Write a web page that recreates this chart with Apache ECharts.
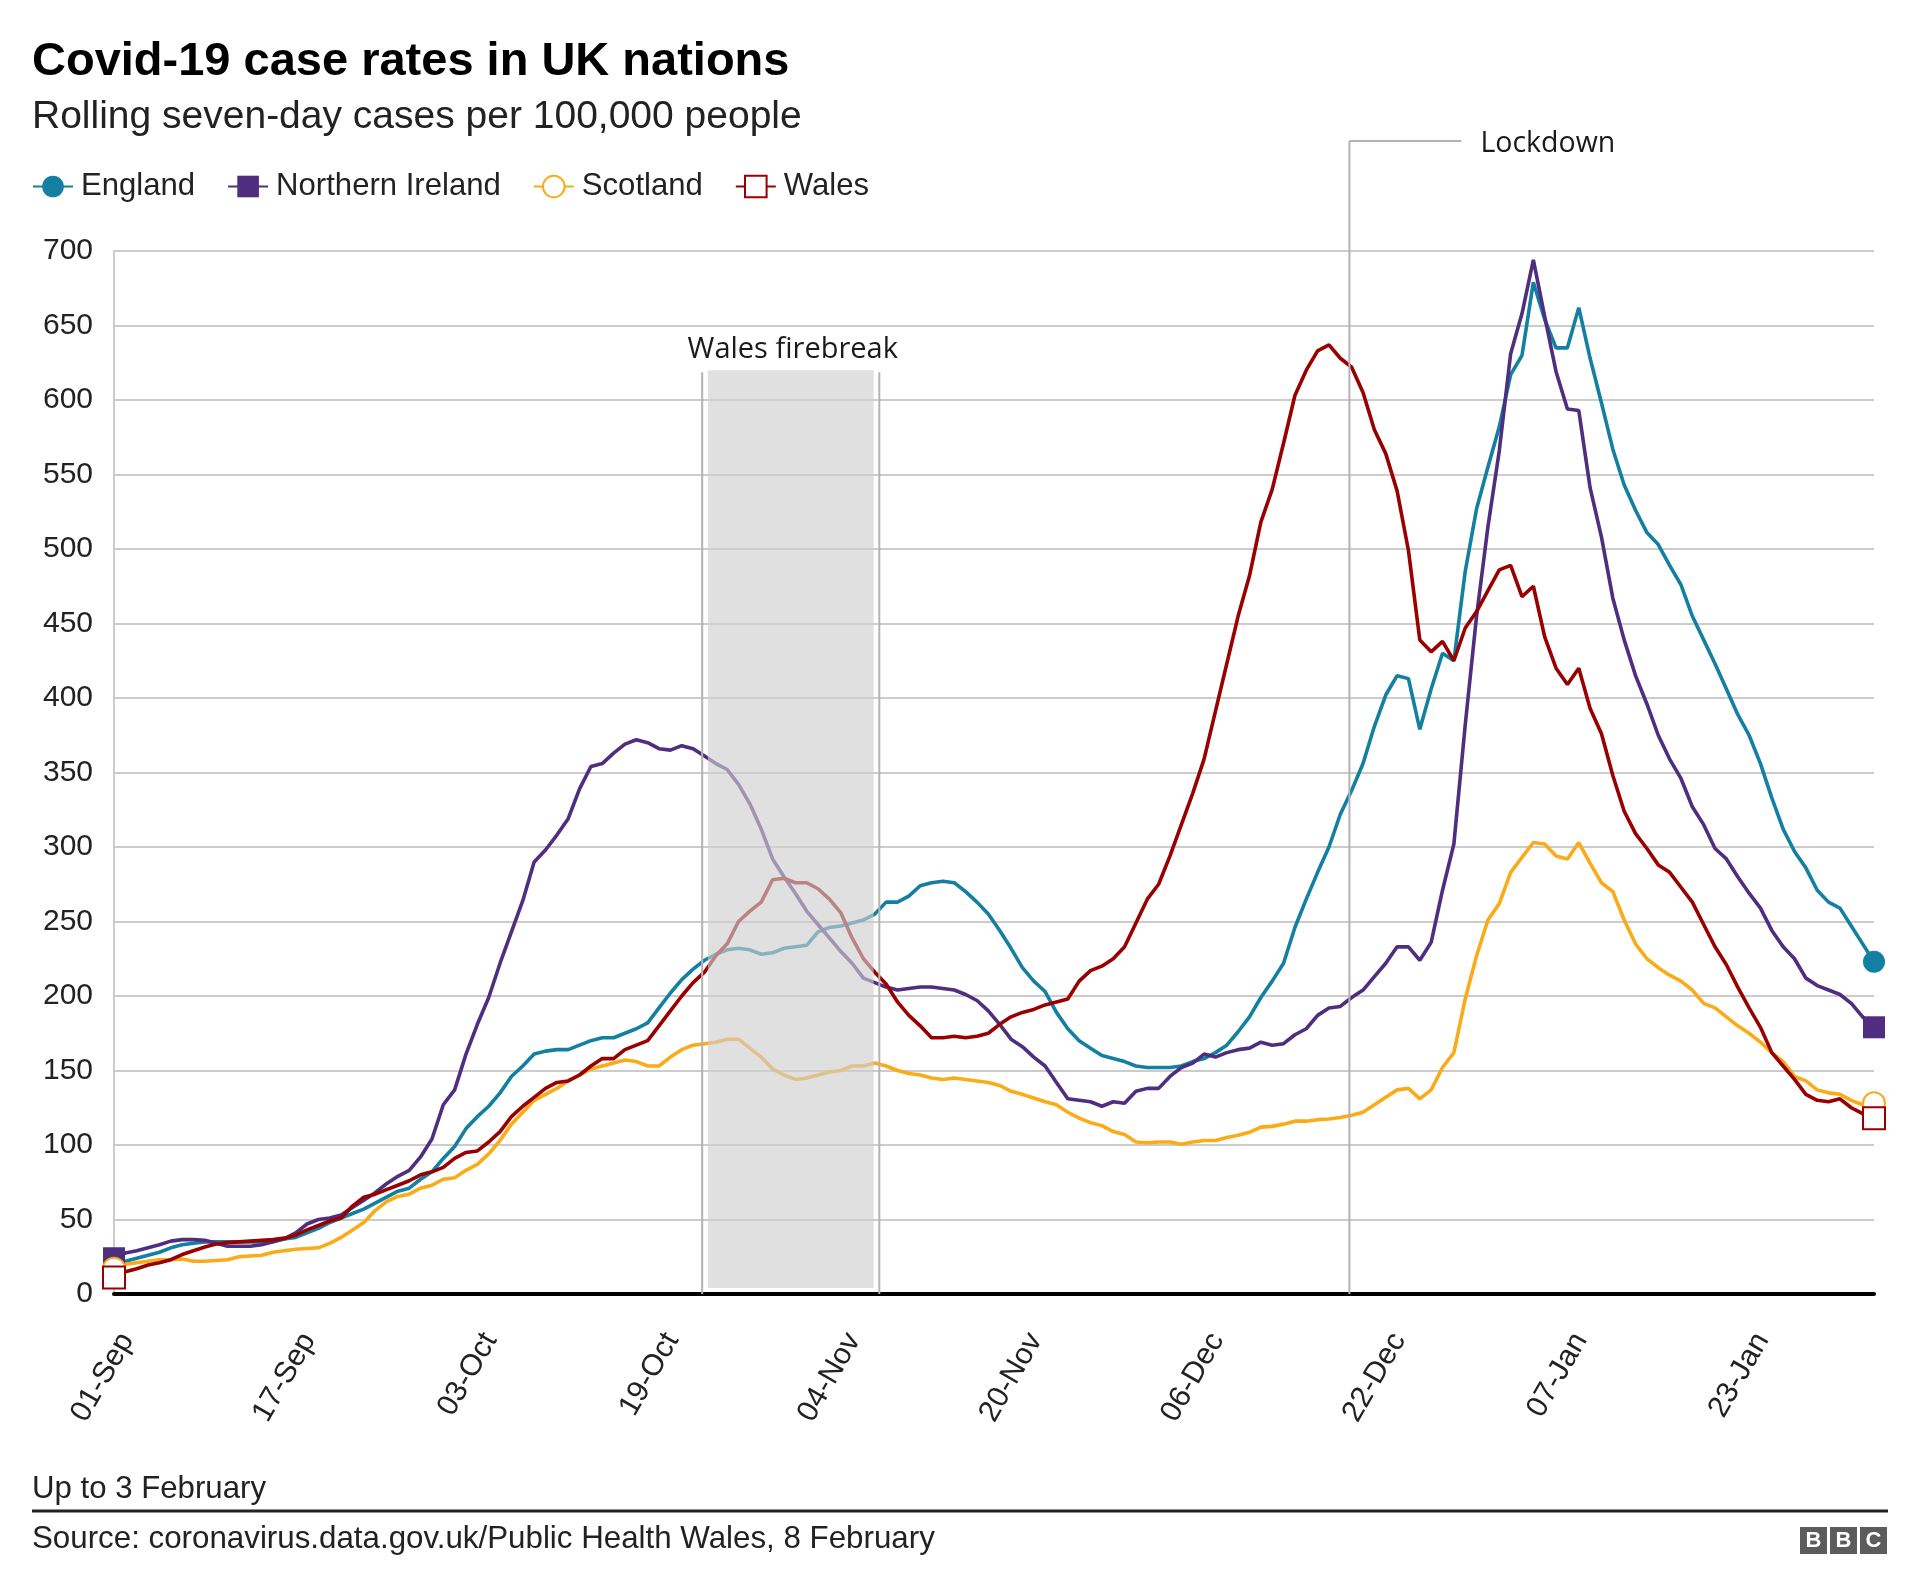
<!DOCTYPE html>
<html><head><meta charset="utf-8">
<script src="https://cdn.jsdelivr.net/npm/echarts/dist/echarts.min.js"></script>
<style>html,body{margin:0;padding:0;background:#fff}#chart{width:1920px;height:1595px}</style>
</head><body><div id="chart"></div>
<script>
// ---- data (rolling 7-day cases per 100,000), one value per day from 01-Sep to 03-Feb ----
const tickLabels = ['01-Sep','17-Sep','03-Oct','19-Oct','04-Nov','20-Nov','06-Dec','22-Dec','07-Jan','23-Jan'];
const seriesNames = ['England','Northern Ireland','Scotland','Wales'];

const england = [19,22,24,26,28,31,33,34,35,35,35,35,35,35,35,37,38,41,44,48,51,54,57,61,65,69,71,
 77,82,91,99,111,119,126,135,146,153,161,163,164,164,167,170,172,172,175,178,182,192,202,211,218,224,228,
 231,232,231,228,229,232,233,234,243,246,247,249,251,255,263,263,267,274,276,277,276,270,263,255,244,232,
 219,210,203,189,178,170,165,160,158,156,153,152,152,152,153,156,158,162,167,176,186,199,210,222,246,265,283,
 300,322,338,356,381,402,415,413,379,406,430,425,485,527,555,582,617,630,679,654,635,635,662,628,598,567,
 543,526,511,503,489,476,455,439,423,406,389,375,356,333,312,297,286,271,263,259,247,235,223];

const northernIreland = [24,27.5,29,31,33,35.5,36.5,36.5,36,34,32,32,32,33,35,37,41,47,50,51,53,58,63,68,74,79,83,
 92,104,127,137,161,181,199,222,243,264,290,298,308,319,339,354,356,363,369,372,370,366,365,368,366,361,356,
 352,342,329,312,292,280,269,257,248,239,230,222,212,209,206,204,205,206,206,205,204,201,197,190,181,171,
 166,159,153,142,131,130,129,126,129,128,136,138,138,146,152,155,161,159,162,164,165,169,167,168,174,178,187,
 192,193,199,204,213,222,233,233,224,236,271,302,382,455,515,566,631,658,694,656,619,594,593,541,508,467,
 439,415,396,375,359,346,327,315,299,292,280,269,259,244,233,225,212,207,204,201,195,186,179];

const scotland = [17,20,21,22,23,23,23.5,22,22,22.5,23,25,25.5,26,28,29,30,30.5,31,34,38,43,48,56,62,65.5,67,
 71,73,77,78,83,87,94,103,114,122,130,134,138,143,147,151,153,155,157,156,153,153,159,164,167,168,169,
 171,171,165,159,151,147,144,145,147,149,150,153,153,155,153,150,148,147,145,144,145,144,143,142,140,136,
 134,131.5,129,127,122,118,115,113,109,107,102,101.5,102,102,100.5,102,103,103,105,106.5,108.5,112,112.5,114,116,116,117,
 117.5,118.5,120,122,127,132,137,138,131,137,152,162,198,227,251,262,283,293,303,302,294,292,303,289,276,270,
 251,235,225,219,214,210,204,195,192,186,180,175,169,162,156,146,143,137,135,134,130,127,128];

const wales = [11,15,17,19.5,21,23,26.5,29,31.5,33.5,34.5,35,35.5,36,36.5,37.5,39.5,43,46,49,51,59,65,67,70,73,76,
 80,82,85,91,95,96,102,109,119,126,132,138,142,143,147,153,158,158,164,167,170,180,190,200,209,216,227,
 235,250,257,263,278,279,276,276,272,265,256,239,225,216,208,196,187,180,172,172,173,172,173,175,181,186,
 189,191,194,196,198,210,217,220,225,233,249,265,275,294,315,336,359,391,423,455,482,518,540,571,603,620,633,
 637,628,622,605,580,564,539,499,439,431,438,425,447,458,472,486,489,468,475,441,420,409,420,393,376,348,
 324,309,299,288,283,273,263,248,233,221,206,192,179,162,153,144,134,130,129,131,125,121,118];

// annotation positions in data units (day index from 01-Sep)
const firebreakShade = [52.3, 66.9];
const firebreakLines = [51.8, 67.4];
const firebreakTop = 620;
const lockdownDay = 108.8;

const colors = ['#1380A1', '#4F2D7F', '#FAAB18', '#990000'];
const symbols = ['circle', 'rect', 'emptyCircle', 'emptyRect'];
const allValues = [england, northernIreland, scotland, wales];

const FONT = 'Liberation Sans';
const chart = echarts.init(document.getElementById('chart'), null, {renderer: 'canvas'});

function makeSeries(name, vals, color, symbol) {
  const n = vals.length;
  const empty = symbol.indexOf('empty') === 0;
  return {
    name: name, type: 'line', animation: false, silent: true, clip: false,
    symbol: symbol, symbolSize: 22, showSymbol: true, showAllSymbol: true,
    data: vals.map((v, i) => (i === 0 || i === n - 1) ? [i, v] : {value: [i, v], symbol: 'none'}),
    lineStyle: {color: color, width: 3.6},
    itemStyle: {color: color, borderColor: color, borderWidth: empty ? 3 : 0},
    emphasis: {disabled: true}
  };
}

chart.setOption({
  animation: false,
  backgroundColor: '#ffffff',
  grid: {left: 114, right: 46, top: 251, bottom: 301, containLabel: false, outerBoundsMode: 'none'},
  legend: {
    left: 27, top: 166, padding: 5, itemWidth: 40, itemHeight: 27, itemGap: 32, selectedMode: false,
    data: seriesNames,
    textStyle: {fontFamily: FONT, fontSize: 31.1, color: '#222222', padding: [0, 0, 0, 3]}
  },
  xAxis: {
    type: 'value', min: 0, max: 155, interval: 16,
    axisLine: {show: true, onZero: true, lineStyle: {color: '#000000', width: 4}},
    axisTick: {show: false}, splitLine: {show: false},
    axisLabel: {
      formatter: v => (v % 16 === 0 && v / 16 < tickLabels.length) ? tickLabels[v / 16] : '',
      rotate: 60, align: 'right', verticalAlign: 'top', margin: 34,
      fontFamily: FONT, fontSize: 30, color: '#222222'
    }
  },
  yAxis: {
    type: 'value', min: 0, max: 700, interval: 50,
    axisLine: {show: true, lineStyle: {color: '#cccccc', width: 2}},
    axisTick: {show: false},
    splitLine: {show: true, lineStyle: {color: '#cccccc', width: 2}},
    axisLabel: {fontFamily: FONT, fontSize: 30, color: '#222222', margin: 21}
  },
  series: seriesNames.map((nm, k) => makeSeries(nm, allValues[k], colors[k], symbols[k]))
});

// annotations positioned through the chart's own scales
const P = (x, y) => chart.convertToPixel({gridIndex: 0}, [x, y]);
const base = P(0, 0)[1];
const shadeL = P(firebreakShade[0], firebreakTop);
const shadeR = P(firebreakShade[1], 4);
const lineL = P(firebreakLines[0], firebreakTop)[0];
const lineR = P(firebreakLines[1], firebreakTop)[0];
const fbTopY = shadeL[1];
const lockX = P(lockdownDay, 0)[0];
const lockTopY = 141;
const ann = '#b3b3b3';

chart.setOption({
  graphic: [
    {type: 'rect', z: 100, silent: true, shape: {x: shadeL[0], y: fbTopY, width: shadeR[0] - shadeL[0], height: shadeR[1] - fbTopY}, style: {fill: 'rgba(206,206,206,0.64)'}},
    {type: 'line', z: 101, silent: true, shape: {x1: lineL, y1: fbTopY + 2, x2: lineL, y2: base}, style: {stroke: ann, lineWidth: 2}},
    {type: 'line', z: 101, silent: true, shape: {x1: lineR, y1: fbTopY + 2, x2: lineR, y2: base}, style: {stroke: ann, lineWidth: 2}},
    {type: 'text', z: 101, silent: true, x: (shadeL[0] + shadeR[0]) / 2 + 2, y: fbTopY - 20,
      style: {text: 'Wales firebreak', fontFamily: 'Open Sans', fontSize: 29, fill: '#1a1a1a', align: 'center', verticalAlign: 'middle'}},
    {type: 'line', z: 101, silent: true, shape: {x1: lockX, y1: lockTopY, x2: lockX, y2: base}, style: {stroke: ann, lineWidth: 2}},
    {type: 'line', z: 101, silent: true, shape: {x1: lockX, y1: lockTopY, x2: lockX + 112, y2: lockTopY}, style: {stroke: ann, lineWidth: 2}},
    {type: 'text', z: 101, silent: true, x: lockX + 131, y: lockTopY + 3,
      style: {text: 'Lockdown', fontFamily: 'Open Sans', fontSize: 28.5, fill: '#1a1a1a', align: 'left', verticalAlign: 'middle'}},

    {type: 'text', silent: true, x: 32, y: 62,
      style: {text: 'Covid-19 case rates in UK nations', fontFamily: FONT, fontWeight: 'bold', fontSize: 47, fill: '#000000', verticalAlign: 'middle'}},
    {type: 'text', silent: true, x: 32, y: 117,
      style: {text: 'Rolling seven-day cases per 100,000 people', fontFamily: FONT, fontSize: 39, fill: '#222222', verticalAlign: 'middle'}},
    {type: 'text', silent: true, x: 32, y: 1489,
      style: {text: 'Up to 3 February', fontFamily: FONT, fontSize: 31.2, fill: '#222222', verticalAlign: 'middle'}},
    {type: 'line', silent: true, shape: {x1: 32, y1: 1511, x2: 1888, y2: 1511}, style: {stroke: '#222222', lineWidth: 3}},
    {type: 'text', silent: true, x: 32, y: 1539,
      style: {text: 'Source: coronavirus.data.gov.uk/Public Health Wales, 8 February', fontFamily: FONT, fontSize: 31.3, fill: '#222222', verticalAlign: 'middle'}},
    {type: 'rect', silent: true, shape: {x: 1800, y: 1527, width: 27, height: 27}, style: {fill: '#5c5c5c'}},
    {type: 'rect', silent: true, shape: {x: 1830, y: 1527, width: 27, height: 27}, style: {fill: '#5c5c5c'}},
    {type: 'rect', silent: true, shape: {x: 1860, y: 1527, width: 27, height: 27}, style: {fill: '#5c5c5c'}},
    {type: 'text', silent: true, x: 1813.5, y: 1541, style: {text: 'B', fontFamily: FONT, fontWeight: 'bold', fontSize: 22, fill: '#ffffff', align: 'center', verticalAlign: 'middle'}},
    {type: 'text', silent: true, x: 1843.5, y: 1541, style: {text: 'B', fontFamily: FONT, fontWeight: 'bold', fontSize: 22, fill: '#ffffff', align: 'center', verticalAlign: 'middle'}},
    {type: 'text', silent: true, x: 1873.5, y: 1541, style: {text: 'C', fontFamily: FONT, fontWeight: 'bold', fontSize: 22, fill: '#ffffff', align: 'center', verticalAlign: 'middle'}}
  ]
});
</script>
</body></html>
